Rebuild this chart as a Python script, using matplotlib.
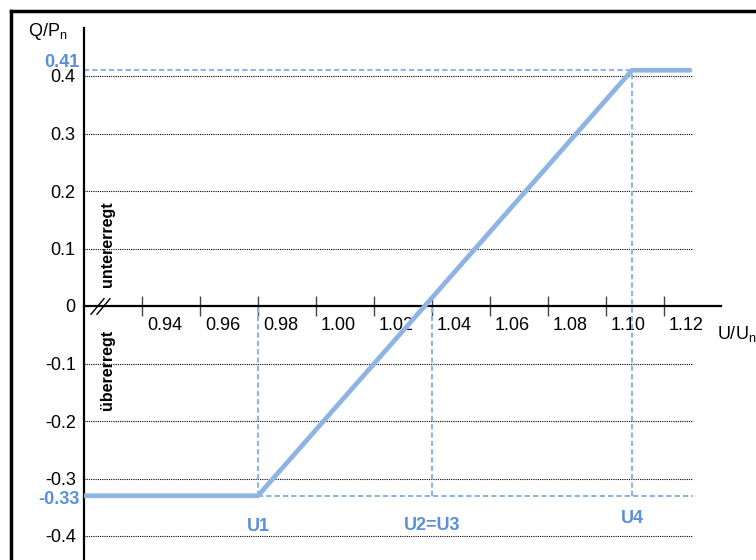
import matplotlib.pyplot as plt
import matplotlib.transforms as mtransforms
from matplotlib.lines import Line2D

plt.rcParams['font.family'] = ['Liberation Sans', 'DejaVu Sans']

# Kennlinie Q(U)
u_points = [0.92, 0.98, 1.109, 1.129]
q_points = [-0.33, -0.33, 0.41, 0.41]

# Stützstellen
u1 = 0.98
u23 = 1.04
u4 = 1.109
q_max = 0.41
q_min = -0.33

x_ticks = [0.94, 0.96, 0.98, 1.00, 1.02, 1.04, 1.06, 1.08, 1.10, 1.12]
y_ticks = [-0.4, -0.3, -0.2, -0.1, 0, 0.1, 0.2, 0.3, 0.4]
y_labels = ['-0.4', '-0.3', '-0.2', '-0.1', '0', '0.1', '0.2', '0.3', '0.4']

line_blue = '#8EB4E3'
text_blue = '#5A8FDB'

fig = plt.figure(figsize=(7.56, 5.6), dpi=100)
ax = fig.add_axes([84 / 756, 0, (721 - 84) / 756, 1 - 28 / 560])
ax.set_xlim(0.92, 1.1397)
ax.set_ylim(-(560 - 306) / 575, (306 - 28) / 575)

# Rahmen oben und links
fig.add_artist(Line2D([11 / 756, 1], [1 - 11 / 560, 1 - 11 / 560], color='black', lw=2.5))
fig.add_artist(Line2D([11 / 756, 11 / 756], [0, 1 - 11 / 560], color='black', lw=2.5))

# Gitterlinien
for yv in y_ticks:
    if yv != 0:
        ax.hlines(yv, 0.92, 1.13, color='black', lw=0.8, linestyle=(0, (1, 1)), zorder=1)

# Hilfslinien
dash = (0, (2.5, 1.5))
ax.hlines(q_max, 0.92, u4, color=line_blue, lw=1.5, linestyle=dash, zorder=2)
ax.hlines(q_min, u1, 1.13, color=line_blue, lw=1.5, linestyle=dash, zorder=2)
ax.vlines(u1, q_min, 0, color=line_blue, lw=1.5, linestyle=dash, zorder=2)
ax.vlines(u23, q_min, 0, color=line_blue, lw=1.5, linestyle=dash, zorder=2)
ax.vlines(u4, q_min, q_max, color=line_blue, lw=1.5, linestyle=dash, zorder=2)

# Kennlinie
ax.plot(u_points, q_points, color=line_blue, lw=3.4, solid_capstyle='round', zorder=4)

# Achsen
for s in ['top', 'right']:
    ax.spines[s].set_visible(False)
ax.spines['bottom'].set_position(('data', 0))
ax.spines['bottom'].set_linewidth(1.6)
ax.spines['left'].set_linewidth(1.6)
ax.spines['bottom'].set_zorder(3)

ax.set_xticks(x_ticks)
ax.set_xticklabels([f'{v:.2f}' for v in x_ticks], fontsize=13)
ax.tick_params(axis='x', direction='inout', length=14, width=1, color='#444444', pad=1)
offset = mtransforms.ScaledTranslation(5 / 100, 0, fig.dpi_scale_trans)
for lab in ax.get_xticklabels():
    lab.set_horizontalalignment('left')
    lab.set_transform(lab.get_transform() + offset)

ax.set_yticks(y_ticks)
ax.set_yticklabels(y_labels, fontsize=13)
ax.tick_params(axis='y', length=0, pad=6)

# Bruchzeichen
ax.plot([0.9245, 0.9265], [0, 0], linestyle='none', marker=[(-1, -1.2), (1, 1.2)],
        markersize=12, markeredgecolor='black', markeredgewidth=1, zorder=5)

# Beschriftungen
ax.text(0.9185, q_max + 0.014, '0.41', color=text_blue, fontsize=13, fontweight='bold',
        ha='right', va='center', clip_on=False)
ax.text(0.9185, q_min - 0.006, '-0.33', color=text_blue, fontsize=13, fontweight='bold',
        ha='right', va='center', clip_on=False)
ax.text(u1, -0.383, 'U1', color=text_blue, fontsize=13, fontweight='bold', ha='center', va='center')
ax.text(u23, -0.381, 'U2=U3', color=text_blue, fontsize=13, fontweight='bold', ha='center', va='center')
ax.text(u4, -0.369, 'U4', color=text_blue, fontsize=13, fontweight='bold', ha='center', va='center')

ax.text(0.928, 0.107, 'untererregt', rotation=90, fontsize=11.5, fontweight='bold', ha='center', va='center')
ax.text(0.928, -0.112, 'übererregt', rotation=90, fontsize=11.5, fontweight='bold', ha='center', va='center')

fig.text(28 / 756, 1 - 31 / 560, 'Q/P$_{\\mathregular{n}}$', fontsize=13, ha='left', va='center')
fig.text(717 / 756, 1 - 334 / 560, 'U/U$_{\\mathregular{n}}$', fontsize=13, ha='left', va='center')

fig.savefig('out.png', dpi=100)
